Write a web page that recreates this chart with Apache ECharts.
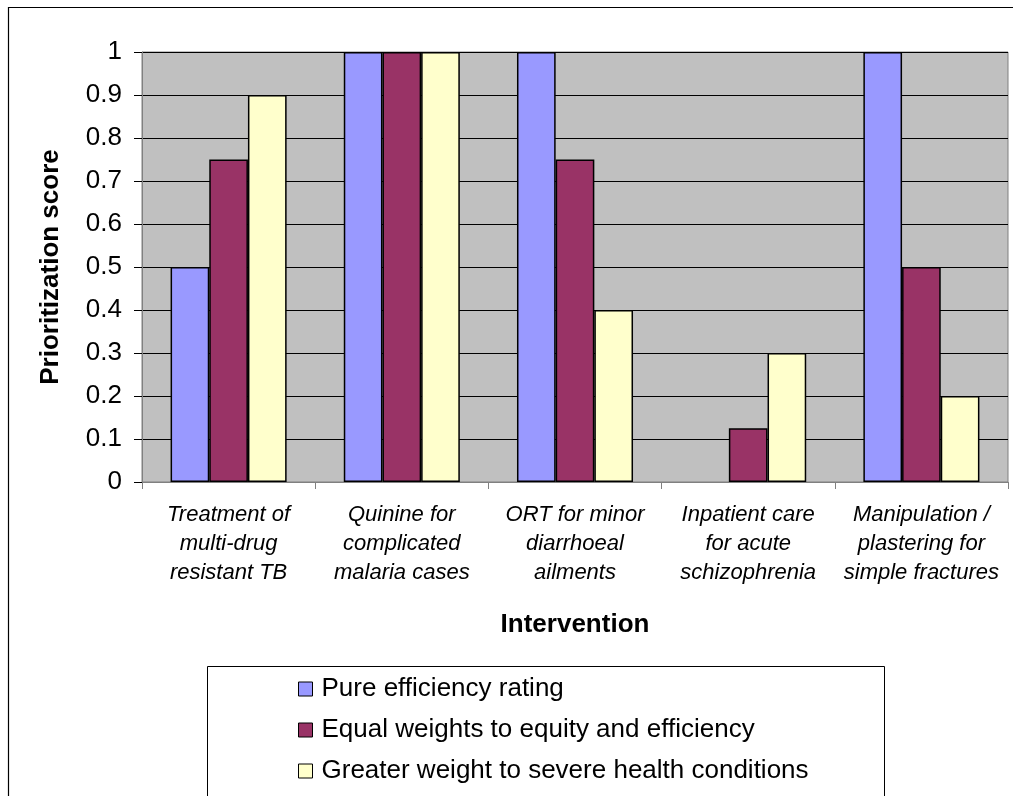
<!DOCTYPE html>
<html>
<head>
<meta charset="utf-8">
<script src="https://cdn.jsdelivr.net/npm/echarts@6/dist/echarts.min.js"></script>
<style>
  html, body { margin: 0; padding: 0; background: #fff; }
  #chart { width: 1013px; height: 796px; }
</style>
</head>
<body>
<div id="chart"></div>
<script>
// Interventions (x axis)
const categories = [
  'Treatment of\nmulti-drug\nresistant TB',
  'Quinine for\ncomplicated\nmalaria cases',
  'ORT for minor\ndiarrhoeal\nailments',
  'Inpatient care\nfor acute\nschizophrenia',
  'Manipulation /\nplastering for\nsimple fractures'
];

// Prioritization scores per weighting scheme
const seriesNames = [
  'Pure efficiency rating',
  'Equal weights to equity and efficiency',
  'Greater weight to severe health conditions'
];
const pureEfficiency = [0.5, 1, 1, 0, 1];
const equalWeights = [0.75, 1, 0.75, 0.125, 0.5];
const severeWeight = [0.9, 1, 0.4, 0.3, 0.2];

const FONT = '"Liberation Sans", Arial, sans-serif';
const colors = ['#9999FF', '#993366', '#FFFFCC'];
const values = [pureEfficiency, equalWeights, severeWeight];

const chart = echarts.init(document.getElementById('chart'));

// zero-height bars get no outline so nothing is drawn for them
const barData = arr => arr.map(v => (v === 0 ? { value: v, itemStyle: { borderWidth: 0 } } : v));

chart.setOption({
  animation: false,
  backgroundColor: '#ffffff',
  graphic: [
    {
      type: 'rect', z: -10,
      shape: { x: 8.5, y: 7.5, width: 1100, height: 900 },
      style: { fill: '#ffffff', stroke: '#000000', lineWidth: 1.2 }
    },
    {
      type: 'rect', z: -5,
      shape: { x: 207.5, y: 666.5, width: 677, height: 200 },
      style: { fill: '#ffffff', stroke: '#000000', lineWidth: 1 }
    }
  ],
  grid: {
    left: 142, top: 52, right: 5, bottom: 314,
    show: true,
    backgroundColor: '#C0C0C0',
    borderColor: '#808080',
    borderWidth: 1
  },
  legend: {
    orient: 'vertical',
    left: 298, top: 676,
    padding: 0,
    itemWidth: 14, itemHeight: 14,
    itemGap: 15,
    icon: 'rect',
    itemStyle: { borderColor: '#000000', borderWidth: 1 },
    textStyle: { fontFamily: FONT, fontSize: 26, color: '#000', lineHeight: 26, padding: [0, 0, 0, 4] },
    data: seriesNames
  },
  xAxis: {
    type: 'category',
    data: categories,
    name: 'Intervention',
    nameLocation: 'middle',
    nameGap: 130,
    nameTextStyle: { fontFamily: FONT, fontSize: 26, fontWeight: 'bold', color: '#000' },
    axisLine: { lineStyle: { color: '#808080', width: 1 } },
    axisTick: { show: true, length: 7, lineStyle: { color: '#808080' } },
    axisLabel: {
      interval: 0,
      margin: 18,
      fontFamily: FONT, fontSize: 22, fontStyle: 'italic', color: '#000',
      lineHeight: 29, align: 'center'
    },
    splitLine: { show: false }
  },
  yAxis: {
    type: 'value',
    min: 0, max: 1, interval: 0.1,
    name: 'Prioritization score',
    nameLocation: 'middle',
    nameRotate: 90,
    nameGap: 78,
    nameTextStyle: { fontFamily: FONT, fontSize: 26, fontWeight: 'bold', color: '#000' },
    axisLine: { show: true, lineStyle: { color: '#808080' } },
    axisTick: { show: true, length: 8, lineStyle: { color: '#000' } },
    axisLabel: { margin: 20, fontFamily: FONT, fontSize: 26, color: '#000' },
    splitLine: { show: true, lineStyle: { color: '#000000', width: 1 } }
  },
  series: seriesNames.map((name, i) => ({
    name,
    type: 'bar',
    data: barData(values[i]),
    barGap: '0%',
    barCategoryGap: '33%',
    itemStyle: { color: colors[i], borderColor: '#000000', borderWidth: 1.5 }
  }))
});
</script>
</body>
</html>
